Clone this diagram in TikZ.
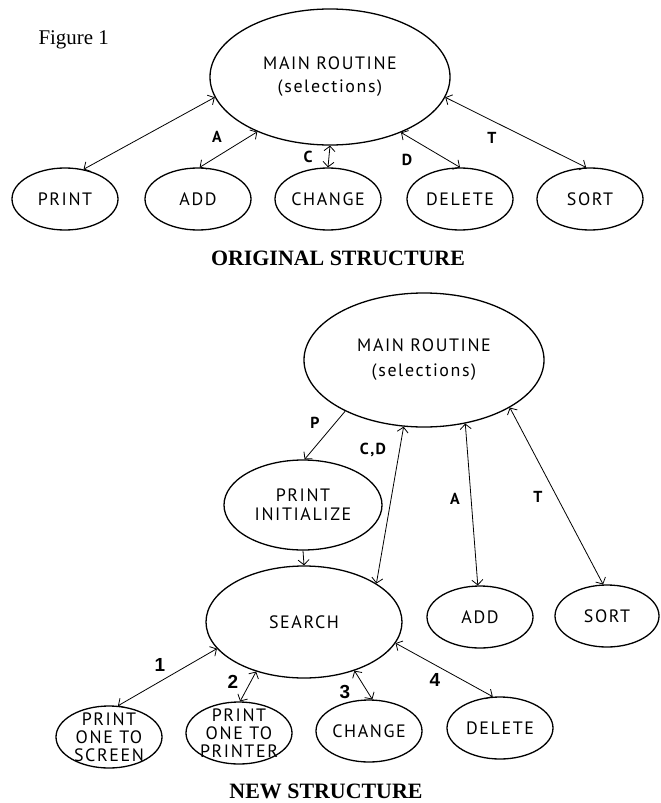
\documentclass[tikz,border=0pt]{standalone}
\usepackage{fontspec}
\setmainfont{Liberation Serif}
\newfontfamily\boxfont{PT Sans}[LetterSpace=9]
\newfontfamily\numfont{Liberation Sans}
\usetikzlibrary{shapes.geometric,arrows.meta}

\begin{document}
\begin{tikzpicture}[x=1bp,y=-1bp,
  ell/.style={draw,ellipse,line width=1.3bp,inner sep=0pt,align=center,
              font=\boxfont\fontsize{18}{18}\selectfont},
  big/.style={ell,minimum width=240bp,minimum height=136bp},
  small/.style={ell,minimum width=106bp,minimum height=62bp},
  ar/.style={-{Straight Barb[length=5bp,width=11bp]},line width=0.8bp},
  dar/.style={{Straight Barb[length=5bp,width=11bp]}-{Straight Barb[length=5bp,width=11bp]},line width=0.8bp},
  lbl/.style={font=\boxfont\bfseries\fontsize{16}{18}\selectfont},
  num/.style={font=\numfont\bfseries\fontsize{19}{21}\selectfont},
  title/.style={font=\bfseries\fontsize{22}{24}\selectfont}]
\path[use as bounding box] (0,0) rectangle (661,803);

% original structure
\node[anchor=base west,font=\fontsize{21}{24}\selectfont] (fig) at (35,45) {Figure 1};
\node[big] (main) at (330,77) {MAIN ROUTINE\\[5bp](selections)};
\node[small] (print) at (65,199) {PRINT};
\node[small] (add) at (198,199) {ADD};
\node[small] (change) at (328,199) {CHANGE};
\node[small] (delete) at (460,199) {DELETE};
\node[small] (sort) at (590,199) {SORT};
\node[title] (orig) at (338,258) {ORIGINAL STRUCTURE};

\draw[dar] (main.190) -- (print.58);
\draw[dar] (main.217) -- (add.87);
\draw[dar] (main.270) -- (change.90);
\draw[dar] (main.322) -- (delete.90);
\draw[dar] (main.350) -- (sort.97);
\node[lbl] (lA) at (217,137) {A};
\node[lbl] (lC) at (308,157) {C};
\node[lbl] (lD) at (407,160) {D};
\node[lbl] (lT) at (492,138) {T};

% new structure
\node[big,minimum height=134bp] (main2) at (424,360) {MAIN ROUTINE\\[7bp](selections)};
\node[ell,minimum width=158bp,minimum height=90bp] (pinit) at (303,505) {PRINT\\[1bp]INITIALIZE};
\node[ell,minimum width=196bp,minimum height=112bp] (search) at (304,622) {SEARCH};
\node[small] (add2) at (480,617) {ADD};
\node[small,minimum width=104bp] (sort2) at (607,616) {SORT};
\node[small,inner ysep=-6bp,inner xsep=-4bp] (screen) at (109,737) {PRINT\\ONE TO\\SCREEN};
\node[small,inner ysep=-6bp,inner xsep=-4bp] (printer) at (239,733) {PRINT\\ONE TO\\PRINTER};
\node[small] (change2) at (369,731) {CHANGE};
\node[small] (delete2) at (500,728) {DELETE};
\node[title] (new) at (326,791) {NEW STRUCTURE};

\draw[ar] (main2.213) -- (pinit.88);
\draw[ar] (pinit.270) -- (search.90);
\draw[dar] (main2.253) -- (search.28);
\draw[dar] (main2.303) -- (add2.94);
\draw[dar] (main2.331) -- (sort2.97);
\draw[dar] (search.197) -- (screen.74);
\draw[dar] (search.226) -- (printer.88);
\draw[dar] (search.316) -- (change2.84);
\draw[dar] (search.347) -- (delete2.103);
\node[lbl] (lP) at (315,423) {P};
\node[lbl] (lCD) at (373,450) {C,D};
\node[lbl] (lA2) at (455,499) {A};
\node[lbl] (lT2) at (538,497) {T};
\node[num] (n1) at (160,665) {1};
\node[num] (n2) at (233,682) {2};
\node[num] (n3) at (345,692) {3};
\node[num] (n4) at (435,680) {4};
\end{tikzpicture}
\end{document}
